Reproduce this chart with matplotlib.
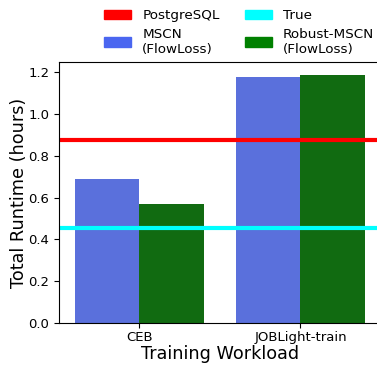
import numpy as np
import matplotlib
matplotlib.use("Agg")
import matplotlib.pyplot as plt
from matplotlib.patches import Patch

workloads = ["CEB", "JOBLight-train"]
mscn = [0.69, 1.18]
robust_mscn = [0.57, 1.19]
postgres = 0.875
true_card = 0.455

fig = plt.figure(figsize=(3.77, 3.69), dpi=100)
ax = fig.add_axes([0.1565, 0.1247, 0.854, 0.7073])

x = np.arange(len(workloads))
w = 0.4
ax.bar(x - w / 2, mscn, w, color="#5a70dc")
ax.bar(x + w / 2, robust_mscn, w, color="#116b11")
ax.axhline(postgres, color="red", lw=3)
ax.axhline(true_card, color="cyan", lw=3)

ax.set_xlim(-0.5, 1.5)
ax.set_ylim(0, 1.25)
ax.set_xticks(x)
ax.set_xticklabels(workloads, fontsize=9.5)
ax.set_yticks(np.arange(0, 1.21, 0.2))
ax.tick_params(axis="y", labelsize=9.5)
ax.tick_params(axis="x", pad=2)
ax.set_xlabel("Training Workload", fontsize=12.7, labelpad=1)
ax.set_ylabel("Total Runtime (hours)", fontsize=12.7, labelpad=0)

handles = [
    Patch(color="red", label="PostgreSQL"),
    Patch(color="#4a66f0", label="MSCN\n(FlowLoss)"),
    Patch(color="cyan", label="True"),
    Patch(color="green", label="Robust-MSCN\n(FlowLoss)"),
]
fig.legend(handles=handles, ncol=2, frameon=False, fontsize=9.7,
           loc="upper left", bbox_to_anchor=(0.245, 1.008),
           handlelength=2, columnspacing=1.9, labelspacing=0.4,
           handletextpad=0.8)

fig.savefig("out.png", dpi=100)
